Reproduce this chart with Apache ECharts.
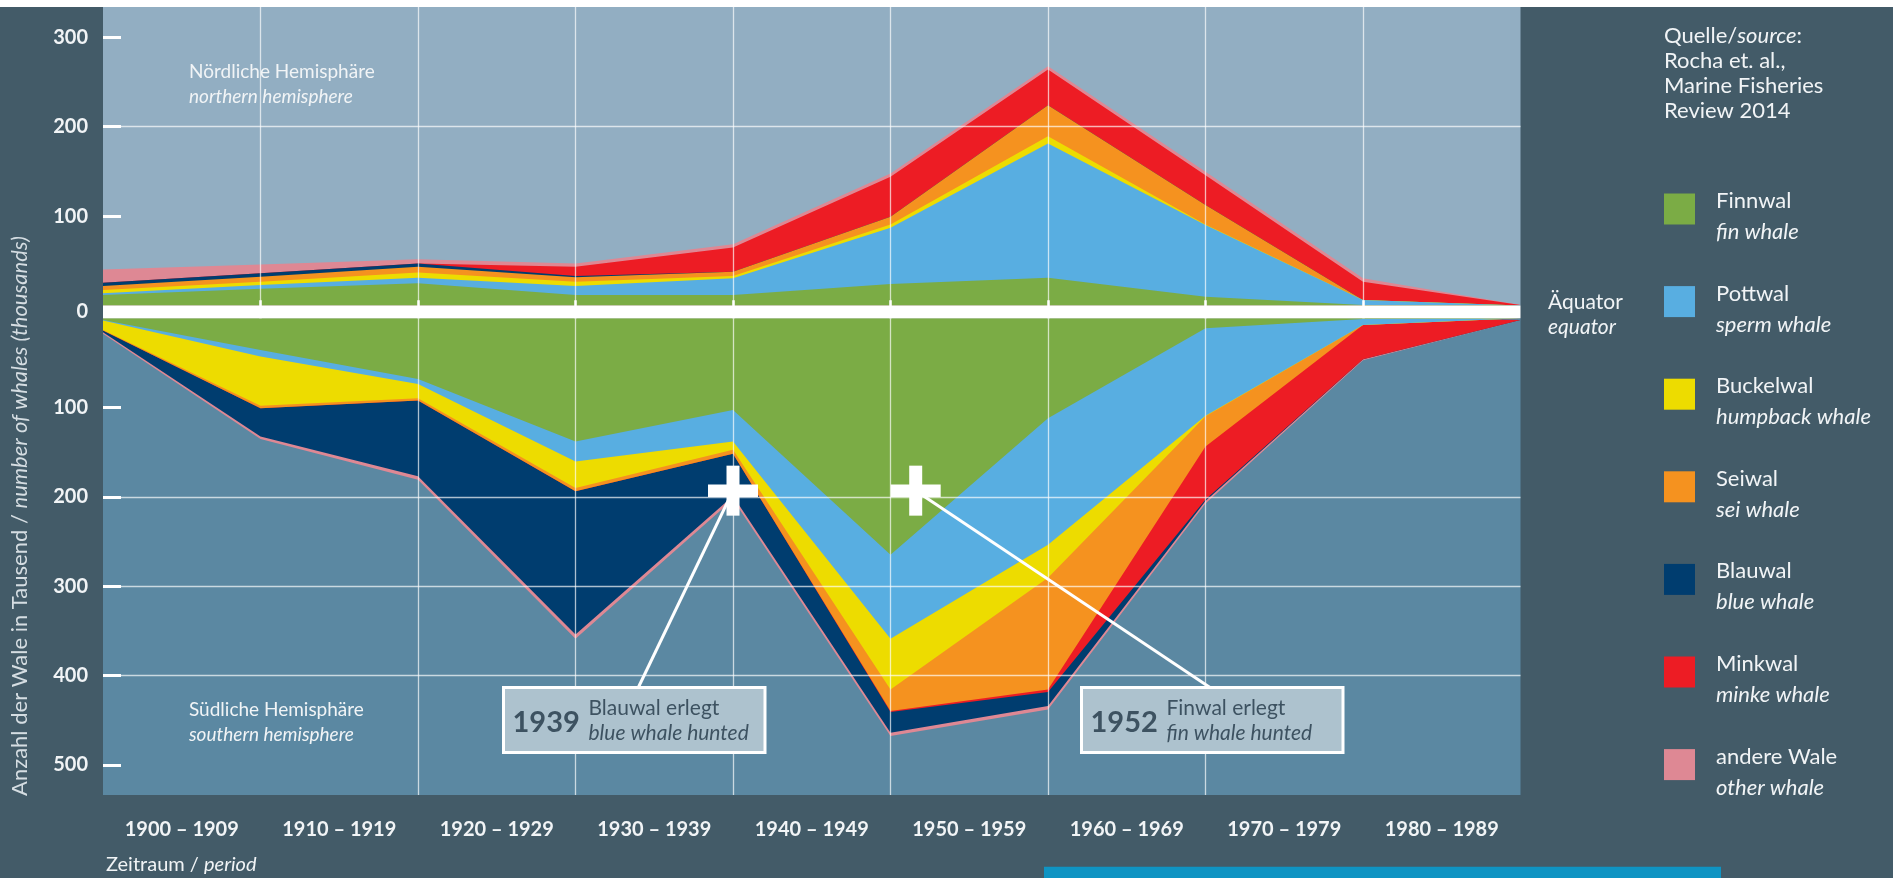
<!DOCTYPE html>
<html><head><meta charset="utf-8">
<script src="https://cdn.jsdelivr.net/npm/echarts@6/dist/echarts.min.js"></script>
<style>html,body{margin:0;padding:0;background:#435B68;}#c{width:1893px;height:878px;}</style>
</head><body><div id="c"></div>
<script>
// ---------- data ----------
const years = [1900, 1910, 1920, 1930, 1940, 1950, 1960, 1970, 1980, 1990];
const periods = ['1900 – 1909', '1910 – 1919', '1920 – 1929', '1930 – 1939', '1940 – 1949',
                 '1950 – 1959', '1960 – 1969', '1970 – 1979', '1980 – 1989'];
const periodCenters = [1905, 1915, 1925, 1935, 1945, 1955, 1965, 1975, 1985];
const tickYears = [1910, 1920, 1930, 1940, 1950, 1960, 1970, 1980];
const northTicks = [100, 200, 300];
const southTicks = [100, 200, 300, 400, 500];

const speciesDe = ['Finnwal', 'Pottwal', 'Buckelwal', 'Seiwal', 'Blauwal', 'Minkwal', 'andere Wale'];
const speciesEn = ['fin whale', 'sperm whale', 'humpback whale', 'sei whale', 'blue whale', 'minke whale', 'other whale'];

// northern hemisphere (thousands per decade), listed from the equator outward
const northFin      = [11.7, 18.8, 24.8, 11.7, 11.7, 24.0, 31.0, 9.8, 0.5, 0];
const northSperm    = [1.9, 4.1, 6.2, 10.1, 18.7, 63.0, 150.2, 80.2, 5.6, 0];
const northHumpback = [3.7, 3.7, 6.0, 4.8, 2.6, 3.7, 8.2, 0.5, 0, 0];
const northSei      = [4.5, 5.6, 6.4, 4.9, 4.8, 8.5, 34.6, 21.8, 0, 0];
const northBlue     = [3.7, 3.8, 3.7, 1.5, 0, 0, 0, 0, 0, 0];
const northMinke    = [0, 0, 0, 10.4, 27.2, 44.8, 40.0, 33.5, 20.5, 0.5];
const northOther    = [14.9, 10.0, 4.5, 3.7, 3.4, 3.7, 3.6, 3.7, 3.8, 0];

// southern hemisphere (thousands per decade), listed from the equator outward
const southFin      = [2.0, 35.5, 68.0, 138.0, 102.6, 264.6, 111.9, 11.3, 1.0, 0];
const southSperm    = [0.5, 7.5, 5.5, 22.3, 35.4, 94.2, 141.5, 98.0, 6.6, 0];
const southHumpback = [10.7, 55.0, 16.0, 29.7, 9.3, 56.6, 37.2, 0.5, 0, 0];
const southSei      = [0.5, 2.7, 2.7, 3.8, 4.4, 24.3, 124.8, 33.7, 0, 0];
const southMinke    = [0, 0, 0, 0, 0, 1.0, 3.0, 59.5, 38.4, 2.0];
const southBlue     = [2.1, 31.7, 84.8, 160.2, 47.3, 23.1, 15.6, 1.5, 0, 0];
const southOther    = [1.7, 2.9, 3.8, 4.8, 4.0, 3.8, 3.8, 3.0, 1.0, 0];

// annotations
const annYear  = [1940, 1951.6];
const annValue = [193, 193];
const annTitle = ['1939', '1952'];
const annDe    = ['Blauwal erlegt', 'Finwal erlegt'];
const annEn    = ['blue whale hunted', 'fin whale hunted'];

// ---------- styling ----------
const C = {
  Finnwal: '#7BAC45', Pottwal: '#58AEE1', Buckelwal: '#EDDC00', Seiwal: '#F5921F',
  Blauwal: '#003D6F', Minkwal: '#ED1C24', 'andere Wale': '#DE8894'
};
const TXT = '#F1F4F6';
const FONT = 'Lato';
const gridLine = { color: 'rgba(255,255,255,0.68)', width: 1.3 };

// layers drawn outermost first so inner layers sit on top (cumulative totals)
function layers(list, gi) {
  const out = [];
  let run = years.map(() => 0);
  const cums = list.map(([name, vals]) => {
    run = run.map((r, i) => r + vals[i]);
    return [name, run.slice()];
  });
  cums.reverse().forEach(([name, cum]) => {
    out.push({
      type: 'line', name, xAxisIndex: gi, yAxisIndex: gi,
      data: years.map((y, i) => [y, cum[i]]),
      symbol: 'none', lineStyle: { width: 0 }, itemStyle: { color: C[name] },
      areaStyle: { color: C[name], opacity: 1, origin: 'start' }, silent: true, animation: false
    });
  });
  return out;
}

const series = [].concat(
  layers([['Finnwal', northFin], ['Pottwal', northSperm], ['Buckelwal', northHumpback], ['Seiwal', northSei],
          ['Blauwal', northBlue], ['Minkwal', northMinke], ['andere Wale', northOther]], 0),
  layers([['Finnwal', southFin], ['Pottwal', southSperm], ['Buckelwal', southHumpback], ['Seiwal', southSei],
          ['Minkwal', southMinke], ['Blauwal', southBlue], ['andere Wale', southOther]], 1)
);

const G = { left: 103, width: 1417.5, nTop: 7, nH: 298.5, sTop: 318.2, sH: 476.8 };

const chart = echarts.init(document.getElementById('c'), null, { renderer: 'canvas' });
chart.setOption({
  backgroundColor: '#435B68',
  animation: false,
  textStyle: { fontFamily: FONT },
  grid: [
    { left: G.left, top: G.nTop, width: G.width, height: G.nH, show: true, backgroundColor: '#92AEC2', borderWidth: 0 },
    { left: G.left, top: G.sTop, width: G.width, height: G.sH, show: true, backgroundColor: '#5B88A2', borderWidth: 0 }
  ],
  xAxis: [
    { gridIndex: 0, type: 'value', min: 1900, max: 1990, interval: 10, z: 5,
      axisLine: { show: false }, axisTick: { show: false }, axisLabel: { show: false },
      splitLine: { show: true, showMinLine: false, showMaxLine: false, lineStyle: gridLine } },
    { gridIndex: 1, type: 'value', min: 1900, max: 1990, interval: 10, z: 5, position: 'bottom',
      axisLine: { show: false },
      axisTick: { show: true, inside: true, length: 18, customValues: tickYears, lineStyle: { color: '#fff', width: 2.5 } },
      axisLabel: { show: true, customValues: periodCenters, formatter: v => periods[periodCenters.indexOf(v)],
                   margin: 25, color: TXT, fontSize: 20, fontWeight: 'bold', fontFamily: FONT },
      splitLine: { show: true, showMinLine: false, showMaxLine: false, lineStyle: gridLine } }
  ],
  yAxis: [
    { gridIndex: 0, type: 'value', min: 0, max: 333.9, interval: 100, z: 5,
      axisLine: { show: false },
      axisTick: { show: true, inside: true, length: 18, customValues: northTicks, lineStyle: { color: '#fff', width: 3 } },
      axisLabel: { customValues: northTicks, margin: 15, color: TXT, fontSize: 20, fontWeight: 'bold', fontFamily: FONT },
      splitLine: { show: true, showMinLine: false, showMaxLine: false, lineStyle: gridLine } },
    { gridIndex: 1, type: 'value', min: 0, max: 533.6, interval: 100, inverse: true, z: 5,
      axisLine: { show: false },
      axisTick: { show: true, inside: true, length: 18, customValues: southTicks, lineStyle: { color: '#fff', width: 3 } },
      axisLabel: { customValues: southTicks, margin: 15, color: TXT, fontSize: 20, fontWeight: 'bold', fontFamily: FONT },
      splitLine: { show: true, showMinLine: false, showMaxLine: false, lineStyle: gridLine } }
  ],
  legend: {
    orient: 'vertical', left: 1664, top: 190, padding: 0, itemWidth: 31, itemHeight: 31, itemGap: 39.6,
    icon: 'rect', selectedMode: false, data: speciesDe,
    formatter: n => '{a|' + n + '}\n{b|' + speciesEn[speciesDe.indexOf(n)] + '}',
    textStyle: {
      color: TXT, padding: [15, 0, 0, 16],
      rich: {
        a: { fontSize: 22, lineHeight: 31, color: TXT, fontFamily: FONT },
        b: { fontSize: 22, lineHeight: 31, color: TXT, fontStyle: 'italic', fontFamily: FONT }
      }
    }
  },
  series
});

// ---------- decorations & annotations ----------
function txt(x, y, text, opts) {
  return Object.assign({ type: 'text', x, y, z: 20,
    style: Object.assign({ text, fill: TXT, font: '20px ' + FONT, textAlign: 'left', textVerticalAlign: 'middle' }, opts || {}) });
}
const ital = { fontStyle: 'italic', fontFamily: FONT };
const gr = [];
gr.push({ type: 'rect', z: 20, shape: { x: 0, y: 0, width: 1893, height: 7 }, style: { fill: '#fff' } });
gr.push({ type: 'rect', z: 20, shape: { x: G.left, y: G.nTop + G.nH, width: G.width, height: G.sTop - G.nTop - G.nH }, style: { fill: '#fff' } });
gr.push(txt(88, 312, '0', { textAlign: 'right', font: 'bold 20px ' + FONT }));
gr.push(txt(189, 72, 'Nördliche Hemisphäre', { font: '19px ' + FONT }));
gr.push(txt(189, 97, 'northern hemisphere', { font: 'italic 19px ' + FONT }));
gr.push(txt(189, 710, 'Südliche Hemisphäre', { font: '19px ' + FONT }));
gr.push(txt(189, 735, 'southern hemisphere', { font: 'italic 19px ' + FONT }));
gr.push(txt(1548, 302, 'Äquator', { font: '21px ' + FONT }));
gr.push(txt(1548, 327, 'equator', { font: 'italic 21px ' + FONT }));
const srcRich = { a: { fontSize: 22, fill: TXT, fontFamily: FONT }, b: Object.assign({ fontSize: 22, fill: TXT }, ital) };
gr.push(txt(1664, 36, '{a|Quelle/}{b|source}{a|:}', { rich: srcRich }));
gr.push(txt(1664, 61, 'Rocha et. al.,', { font: '22px ' + FONT }));
gr.push(txt(1664, 86, 'Marine Fisheries', { font: '22px ' + FONT }));
gr.push(txt(1664, 111, 'Review 2014', { font: '22px ' + FONT }));
gr.push(Object.assign(txt(20, 516, '{a|Anzahl der Wale in Tausend / }{b|number of whales (thousands)}', {
  textAlign: 'center', fill: '#D5DDE2',
  rich: { a: { fontSize: 22, fill: '#D5DDE2', fontFamily: FONT }, b: Object.assign({ fontSize: 22, fill: '#D5DDE2' }, ital) }
}), { rotation: Math.PI / 2 }));
gr.push(txt(106, 865, '{a|Zeitraum / }{b|period}', { rich: { a: { fontSize: 20, fill: TXT, fontFamily: FONT }, b: Object.assign({ fontSize: 20, fill: TXT }, ital) } }));
gr.push({ type: 'rect', z: 20, shape: { x: 1044, y: 866.7, width: 677, height: 12 }, style: { fill: '#0F94C3' } });

const boxes = [{ x: 503.5, y: 687.5, ax: 638.3 }, { x: 1081.5, y: 687.5, ax: 1210 }];
annYear.forEach((yr, i) => {
  const p = chart.convertToPixel({ xAxisIndex: 1, yAxisIndex: 1 }, [yr, annValue[i]]);
  const b = boxes[i];
  gr.push({ type: 'line', z: 21, shape: { x1: p[0], y1: p[1], x2: b.ax, y2: b.y }, style: { stroke: '#fff', lineWidth: 3 } });
  gr.push({ type: 'rect', z: 22, shape: { x: p[0] - 25, y: p[1] - 6.25, width: 50, height: 12.5 }, style: { fill: '#fff' } });
  gr.push({ type: 'rect', z: 22, shape: { x: p[0] - 6.5, y: p[1] - 25, width: 13, height: 50 }, style: { fill: '#fff' } });
  gr.push({ type: 'rect', z: 22, shape: { x: b.x, y: b.y, width: 261.5, height: 65 }, style: { fill: '#ADC2CE', stroke: '#fff', lineWidth: 3 } });
  gr.push(Object.assign(txt(b.x + 9, b.y + 35, annTitle[i], { fill: '#3D5261', font: 'bold 29px ' + FONT }), { z: 23 }));
  gr.push(Object.assign(txt(b.x + 85, b.y + 21, annDe[i], { fill: '#3D5261', font: '21px ' + FONT }), { z: 23 }));
  gr.push(Object.assign(txt(b.x + 85, b.y + 46, annEn[i], { fill: '#3D5261', font: 'italic 21px ' + FONT }), { z: 23 }));
});
chart.setOption({ graphic: gr });
</script>
</body></html>
